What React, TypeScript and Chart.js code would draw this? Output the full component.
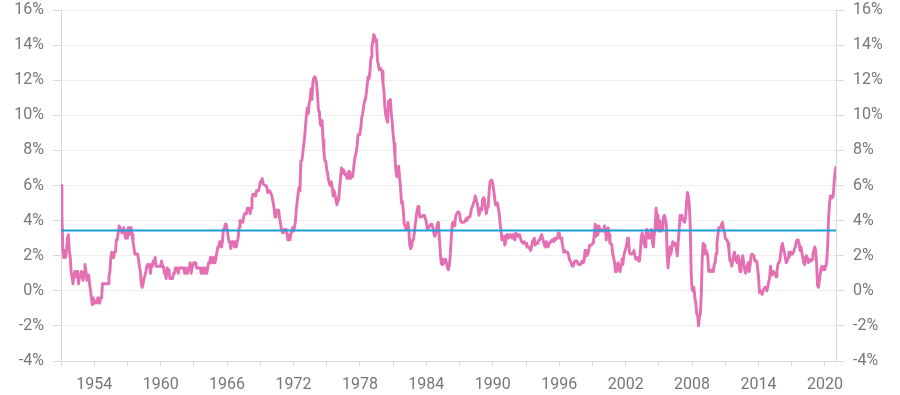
import React, { useEffect, useRef } from "react";
import { Chart, registerables } from "chart.js";

Chart.register(...registerables);

// Monthly year-over-year inflation (%), first value = December 1951
const start1951 = [6.0];
const cpi1950s = [
  4.3, 2.3, 1.9, 2.3, 1.9, 2.3, 3.0, 3.2, 2.3, 1.9, 1.1, 0.8, // 1952
  0.4, 0.8, 1.1, 0.8, 1.1, 1.1, 0.4, 0.8, 0.8, 1.1, 0.8, 0.6, // 1953
  1.1, 1.5, 1.1, 0.6, 0.8, 0.9, 0.4, 0.0, -0.4, -0.8, -0.4, -0.7, // 1954
  -0.7, -0.7, -0.7, -0.4, -0.7, -0.7, -0.4, -0.4, 0.4, 0.4, 0.4, 0.4, // 1955
  0.4, 0.4, 0.4, 0.8, 1.1, 1.9, 2.2, 1.9, 1.9, 2.2, 2.2, 2.9, // 1956
  2.9, 3.3, 3.7, 3.6, 3.6, 3.3, 3.3, 3.6, 3.3, 3.0, 3.3, 3.0, // 1957
  3.6, 3.2, 3.6, 3.6, 3.2, 2.8, 2.5, 2.1, 2.1, 2.1, 2.1, 1.8, // 1958
  1.4, 1.1, 0.4, 0.2, 0.4, 0.7, 0.7, 1.1, 1.4, 1.5, 1.4, 1.5, // 1959
];
const cpi1960s = [
  1.0, 1.5, 1.4, 1.7, 1.7, 1.9, 1.4, 1.4, 1.4, 1.4, 1.4, 1.4, // 1960
  1.7, 1.4, 1.4, 1.0, 1.0, 0.7, 1.3, 1.0, 1.2, 0.7, 0.7, 0.7, // 1961
  0.7, 1.0, 1.0, 1.3, 1.3, 1.3, 1.0, 1.3, 1.3, 1.3, 1.3, 1.3, // 1962
  1.3, 1.0, 1.3, 1.0, 1.0, 1.3, 1.3, 1.6, 1.0, 1.3, 1.3, 1.6, // 1963
  1.6, 1.6, 1.3, 1.3, 1.3, 1.3, 1.3, 1.0, 1.3, 1.0, 1.3, 1.0, // 1964
  1.0, 1.0, 1.3, 1.6, 1.6, 1.9, 1.6, 1.9, 1.6, 1.9, 1.6, 1.9, // 1965
  1.9, 2.5, 2.5, 2.8, 2.8, 2.5, 2.8, 3.5, 3.5, 3.8, 3.8, 3.5, // 1966
  3.5, 2.8, 2.8, 2.4, 2.8, 2.8, 2.8, 2.5, 2.8, 2.5, 2.8, 3.0, // 1967
  3.6, 4.0, 4.0, 3.9, 3.9, 4.2, 4.4, 4.4, 4.4, 4.7, 4.7, 4.7, // 1968
  4.4, 4.7, 5.3, 5.5, 5.5, 5.5, 5.4, 5.7, 5.7, 5.7, 5.9, 6.2, // 1969
];
const cpi1970s = [
  6.2, 6.4, 6.1, 6.1, 6.0, 6.0, 5.9, 5.6, 5.7, 5.7, 5.6, 5.5, // 1970
  5.3, 5.0, 4.7, 4.2, 4.4, 4.6, 4.4, 4.6, 4.1, 3.8, 3.5, 3.3, // 1971
  3.3, 3.5, 3.5, 3.5, 3.2, 2.9, 2.9, 2.9, 3.2, 3.4, 3.6, 3.4, // 1972
  3.6, 3.9, 4.6, 5.1, 5.5, 5.9, 5.7, 7.4, 7.4, 7.8, 8.3, 8.7, // 1973
  9.4, 10.0, 10.4, 10.1, 10.7, 10.9, 11.5, 10.9, 11.9, 12.1, 12.2, 12.1, // 1974
  11.8, 11.2, 10.3, 10.2, 9.5, 9.4, 9.7, 8.6, 7.9, 7.4, 7.4, 6.9, // 1975
  6.7, 6.3, 6.1, 6.0, 6.2, 5.9, 5.4, 5.7, 5.5, 5.5, 4.9, 5.1, // 1976
  5.2, 5.9, 6.4, 7.0, 6.7, 6.9, 6.8, 6.6, 6.6, 6.4, 6.7, 6.8, // 1977
  6.8, 6.4, 6.6, 6.5, 6.9, 7.4, 7.7, 7.9, 8.3, 8.9, 8.9, 9.0, // 1978
  9.3, 9.9, 10.1, 10.5, 10.8, 10.9, 11.3, 11.8, 12.2, 12.1, 12.6, 13.3, // 1979
];
const cpi1980s = [
  13.9, 14.2, 14.6, 14.5, 14.2, 14.3, 13.1, 12.9, 12.6, 12.7, 12.6, 12.5, // 1980
  11.8, 11.4, 10.5, 10.0, 9.8, 9.6, 10.8, 10.8, 10.9, 10.1, 9.6, 8.9, // 1981
  8.4, 7.6, 6.8, 6.5, 6.7, 7.1, 6.4, 5.9, 5.0, 5.1, 4.6, 3.8, // 1982
  3.7, 3.5, 3.6, 3.9, 3.5, 2.6, 2.4, 2.5, 2.9, 2.9, 3.3, 3.8, // 1983
  4.2, 4.6, 4.8, 4.6, 4.2, 4.2, 4.2, 4.3, 4.3, 4.3, 4.1, 3.9, // 1984
  3.5, 3.5, 3.7, 3.7, 3.8, 3.8, 3.6, 3.3, 3.1, 3.2, 3.5, 3.8, // 1985
  3.9, 3.1, 2.3, 1.6, 1.5, 1.8, 1.6, 1.6, 1.8, 1.5, 1.3, 1.2, // 1986
  1.5, 2.1, 3.0, 3.8, 3.9, 3.7, 3.9, 4.3, 4.4, 4.5, 4.5, 4.4, // 1987
  4.0, 3.9, 3.9, 3.9, 3.9, 4.0, 4.1, 4.0, 4.2, 4.2, 4.2, 4.4, // 1988
  4.7, 4.8, 5.0, 5.1, 5.4, 5.2, 5.0, 4.7, 4.3, 4.5, 4.7, 4.6, // 1989
];
const cpi1990s = [
  5.2, 5.3, 5.2, 4.7, 4.4, 4.7, 4.8, 5.6, 6.2, 6.3, 6.3, 6.1, // 1990
  5.7, 5.3, 4.9, 4.9, 5.0, 4.7, 4.4, 3.8, 3.4, 2.9, 3.0, 3.1, // 1991
  2.6, 2.8, 3.2, 3.2, 3.0, 3.1, 3.2, 3.1, 3.0, 3.2, 3.0, 2.9, // 1992
  3.3, 3.2, 3.1, 3.2, 3.2, 3.0, 2.8, 2.8, 2.7, 2.8, 2.7, 2.7, // 1993
  2.5, 2.5, 2.5, 2.4, 2.3, 2.5, 2.8, 2.9, 3.0, 2.6, 2.7, 2.7, // 1994
  2.8, 2.9, 2.9, 3.1, 3.2, 3.0, 2.8, 2.6, 2.5, 2.8, 2.6, 2.5, // 1995
  2.7, 2.7, 2.8, 2.9, 2.9, 2.8, 3.0, 2.9, 3.0, 3.0, 3.3, 3.3, // 1996
  3.0, 3.0, 2.8, 2.5, 2.2, 2.3, 2.2, 2.2, 2.2, 2.1, 1.8, 1.7, // 1997
  1.6, 1.4, 1.4, 1.4, 1.7, 1.7, 1.7, 1.6, 1.5, 1.5, 1.5, 1.6, // 1998
  1.7, 1.6, 1.7, 2.3, 2.1, 2.0, 2.1, 2.3, 2.6, 2.6, 2.6, 2.7, // 1999
];
const cpi2000s = [
  2.7, 3.2, 3.8, 3.1, 3.2, 3.7, 3.7, 3.4, 3.5, 3.4, 3.4, 3.4, // 2000
  3.7, 3.5, 2.9, 3.3, 3.6, 3.2, 2.7, 2.7, 2.6, 2.1, 1.9, 1.6, // 2001
  1.1, 1.1, 1.5, 1.6, 1.2, 1.1, 1.5, 1.8, 1.5, 2.0, 2.2, 2.4, // 2002
  2.6, 3.0, 3.0, 2.2, 2.1, 2.1, 2.1, 2.2, 2.3, 2.0, 1.8, 1.9, // 2003
  1.9, 1.7, 1.7, 2.3, 3.1, 3.3, 3.0, 2.7, 2.5, 3.2, 3.5, 3.3, // 2004
  3.0, 3.0, 3.1, 3.5, 2.8, 2.5, 3.2, 3.6, 4.7, 4.3, 3.5, 3.4, // 2005
  4.0, 3.6, 3.4, 3.5, 4.2, 4.3, 4.1, 3.8, 2.1, 1.3, 2.0, 2.5, // 2006
  2.1, 2.4, 2.8, 2.6, 2.7, 2.7, 2.4, 2.0, 2.8, 3.5, 4.3, 4.1, // 2007
  4.3, 4.0, 4.0, 3.9, 4.2, 5.0, 5.6, 5.4, 4.9, 3.7, 1.1, 0.1, // 2008
  0.0, 0.2, -0.4, -0.7, -1.3, -1.4, -2.0, -1.5, -1.3, -0.2, 1.8, 2.7, // 2009
];
const cpi2010s = [
  2.6, 2.1, 2.3, 2.2, 2.0, 1.1, 1.2, 1.1, 1.1, 1.2, 1.1, 1.5, // 2010
  1.6, 2.1, 2.7, 3.2, 3.6, 3.6, 3.6, 3.8, 3.9, 3.5, 3.4, 3.0, // 2011
  2.9, 2.9, 2.7, 2.3, 1.7, 1.7, 1.4, 1.7, 2.0, 2.2, 1.8, 1.7, // 2012
  1.6, 2.0, 1.5, 1.1, 1.4, 1.8, 2.0, 1.5, 1.2, 1.0, 1.2, 1.5, // 2013
  1.6, 1.1, 1.5, 2.0, 2.1, 2.1, 2.0, 1.7, 1.7, 1.7, 1.3, 0.8, // 2014
  -0.1, 0.0, -0.1, -0.2, 0.0, 0.1, 0.2, 0.2, 0.0, 0.2, 0.5, 0.7, // 2015
  1.4, 1.0, 0.9, 1.1, 1.0, 1.0, 0.8, 1.1, 1.5, 1.6, 1.7, 2.1, // 2016
  2.5, 2.7, 2.4, 2.2, 1.9, 1.6, 1.7, 1.9, 2.2, 2.0, 2.2, 2.1, // 2017
  2.1, 2.2, 2.4, 2.5, 2.8, 2.9, 2.9, 2.7, 2.3, 2.5, 2.2, 1.9, // 2018
  1.6, 1.5, 1.9, 2.0, 1.8, 1.6, 1.8, 1.7, 1.7, 1.8, 2.1, 2.3, // 2019
];
const cpi2020s = [
  2.5, 2.3, 1.5, 0.3, 0.2, 0.6, 1.0, 1.3, 1.4, 1.2, 1.2, 1.4, // 2020
  1.4, 1.7, 2.6, 4.2, 5.0, 5.4, 5.4, 5.3, 5.4, 6.2, 6.8, 7.1, // 2021
];
const meanInflation = 3.43;
const yTickValues = [-4, -2, 0, 2, 4, 6, 8, 10, 12, 14, 16];
const firstYear = 1951; // year of the first (December) observation

const series = [
  ...start1951,
  ...cpi1950s,
  ...cpi1960s,
  ...cpi1970s,
  ...cpi1980s,
  ...cpi1990s,
  ...cpi2000s,
  ...cpi2010s,
  ...cpi2020s,
];

const PINK = "#e56fb3";
const BLUE = "#1d9fd8";
const TICK_COLOR = "#777777";
const GRID_COLOR = "#efefef";
const AXIS_COLOR = "#d9d9d9";

export default function App() {
  const ref = useRef<HTMLCanvasElement | null>(null);

  useEffect(() => {
    if (!ref.current) return;
    const lastIndex = series.length - 1;
    const lineData = series.map((v, i) => ({ x: i, y: v }));
    const meanData = [
      { x: 0, y: meanInflation },
      { x: lastIndex, y: meanInflation },
    ];
    const font = { family: "Roboto", size: 16 };
    const yTicks = {
      color: TICK_COLOR,
      font,
      padding: 9,
      stepSize: 2,
      callback: (v: any) => `${v}%`,
    };
    const fitY = (scale: any) => {
      scale.width = 49;
      scale.paddingTop = 10;
      scale.paddingBottom = 0;
    };
    const chart = new Chart(ref.current, {
      type: "line",
      data: {
        datasets: [
          {
            data: meanData,
            borderColor: BLUE,
            borderWidth: 2,
            pointRadius: 0,
            yAxisID: "y",
          },
          {
            data: lineData,
            borderColor: PINK,
            borderWidth: 2.9,
            pointRadius: 0,
            tension: 0,
            borderJoinStyle: "round",
            yAxisID: "y",
          },
        ],
      },
      options: {
        animation: false,
        responsive: false,
        layout: { padding: { left: 12, right: 15, top: 0, bottom: 0 } },
        plugins: { legend: { display: false }, tooltip: { enabled: false } },
        scales: {
          x: {
            type: "linear",
            min: 0,
            max: lastIndex,
            afterFit: (scale: any) => {
              scale.height = 34;
              scale.paddingLeft = 0;
              scale.paddingRight = 0;
            },
            grid: {
              display: true,
              drawOnChartArea: false,
              drawTicks: true,
              tickLength: 5,
              color: AXIS_COLOR,
            },
            border: { color: AXIS_COLOR },
            ticks: {
              stepSize: 36,
              autoSkip: false,
              includeBounds: false,
              maxRotation: 0,
              color: TICK_COLOR,
              font,
              padding: 9,
              callback: (v: any) =>
                Number(v) % 72 === 36 ? String(firstYear + Number(v) / 12) : "",
            },
          },
          y: {
            position: "left",
            min: yTickValues[0],
            max: yTickValues[yTickValues.length - 1],
            afterFit: fitY,
            grid: { color: GRID_COLOR, tickLength: 8, tickColor: AXIS_COLOR },
            border: { color: AXIS_COLOR },
            ticks: yTicks,
          },
          y1: {
            position: "right",
            min: yTickValues[0],
            max: yTickValues[yTickValues.length - 1],
            afterFit: fitY,
            grid: { drawOnChartArea: false, tickLength: 8, color: AXIS_COLOR },
            border: { color: AXIS_COLOR },
            ticks: yTicks,
          },
        },
      },
    });
    return () => chart.destroy();
  }, []);

  return (
    <div style={{ position: "absolute", left: 0, top: 0, width: 900, height: 395 }}>
      <canvas ref={ref} width={900} height={395} style={{ display: "block" }} />
    </div>
  );
}
